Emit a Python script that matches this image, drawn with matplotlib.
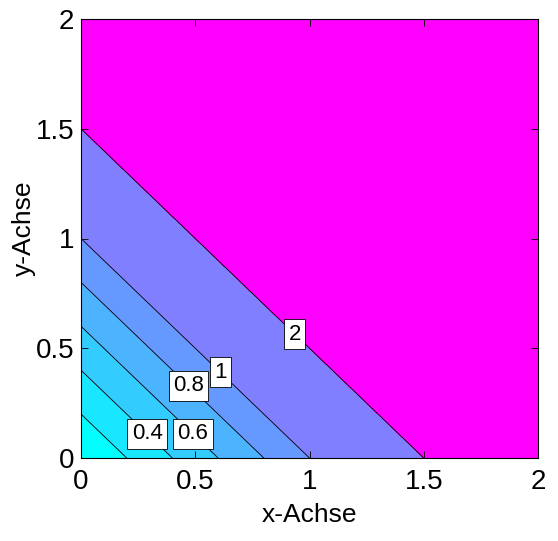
import numpy as np
import matplotlib
matplotlib.use("Agg")
import matplotlib.pyplot as plt
from matplotlib import font_manager

_names = {f.name for f in font_manager.fontManager.ttflist}
if 'Liberation Sans Narrow' in _names:
    plt.rcParams['font.family'] = ['Liberation Sans Narrow', 'DejaVu Sans']
    TICK_FS, LABEL_FS, CL_FS = 23, 22, 18
else:
    plt.rcParams['font.family'] = ['Liberation Sans', 'DejaVu Sans']
    TICK_FS, LABEL_FS, CL_FS = 20, 19, 16

# grid axes
x_vals = np.linspace(0, 2, 81)
y_vals = np.linspace(0, 2, 81)
# field defined by value along x+y (knots)
s_knots = [0.0, 1.0, 1.5, 2.0, 4.0]
z_knots = [0.0, 1.0, 2.0, 3.0, 5.0]
levels = [0, 0.2, 0.4, 0.6, 0.8, 1, 2, 5]
line_levels = [0.2, 0.4, 0.6, 0.8, 1, 2]
label_pos = [(0.29, 0.11), (0.49, 0.11), (0.47, 0.33), (0.61, 0.39), (0.94, 0.57)]
tick_vals = [0, 0.5, 1, 1.5, 2]
tick_labels = ['0', '0.5', '1', '1.5', '2']

X, Y = np.meshgrid(x_vals, y_vals)
Z = np.interp(X + Y, s_knots, z_knots)

fig = plt.figure(figsize=(5.58, 5.41), dpi=100)
ax = fig.add_axes([81/558, 83/541, 457/558, 439/541])

cmap = matplotlib.colormaps['cool']
fill_colors = [cmap(l / 2.0) for l in levels[:-1]]
ax.contourf(X, Y, Z, levels=levels, colors=fill_colors)
cs = ax.contour(X, Y, Z, levels=line_levels, colors='black', linewidths=0.6)
txts = ax.clabel(cs, inline=False, manual=label_pos, fontsize=CL_FS, colors='black',
                 fmt=lambda v: f"{v:g}")
for t in txts:
    t.set_rotation(0)
    t.set_bbox(dict(boxstyle='square,pad=0.2', facecolor='white',
                    edgecolor='black', linewidth=0.6))
    t.set_zorder(5)

ax.set_xlim(0, 2)
ax.set_ylim(0, 2)
ax.set_xticks(tick_vals)
ax.set_yticks(tick_vals)
ax.set_xticklabels(tick_labels)
ax.set_yticklabels(tick_labels)
ax.tick_params(direction='in', length=5, width=0.6, top=True, right=True,
               labelsize=TICK_FS)
ax.tick_params(axis='x', pad=8)
ax.tick_params(axis='y', pad=5)
for sp in ax.spines.values():
    sp.set_linewidth(0.8)
ax.set_xlabel('x-Achse', fontsize=LABEL_FS)
ax.set_ylabel('y-Achse', fontsize=LABEL_FS)
ax.xaxis.set_label_coords(0.5, -0.13, transform=ax.transAxes)
ax.yaxis.set_label_coords(-0.125, 0.524, transform=ax.transAxes)
ax.xaxis.label.set_va('center')
ax.yaxis.label.set_va('center')

fig.savefig('out.png', dpi=100)
